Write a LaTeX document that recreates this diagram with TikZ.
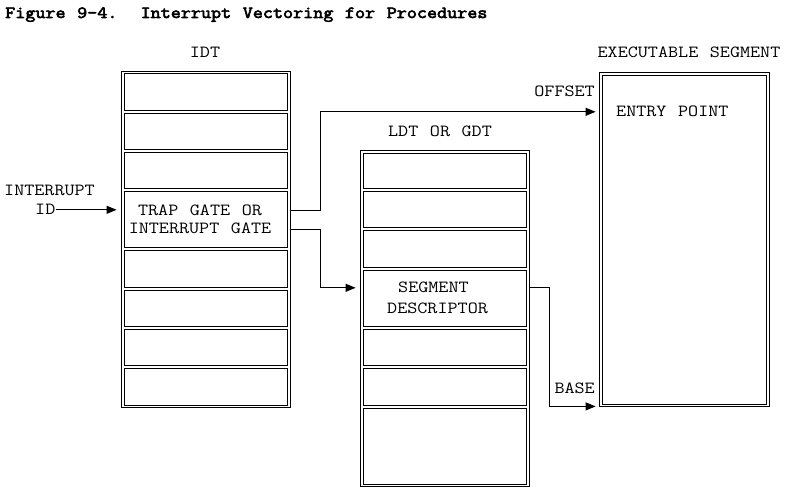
\documentclass[tikz,border=0pt]{standalone}
\usepackage{fontspec}
\setmainfont{Liberation Mono}
\newfontfamily\courfont[FakeStretch=1.15,WordSpace=1.15]{Latin Modern Mono}
\newfontfamily\courbold[FakeStretch=1.15,WordSpace=1.15,FakeBold=3.5]{Latin Modern Mono}
\usetikzlibrary{arrows.meta}

\begin{document}
\begin{tikzpicture}[x=1pt,y=-1pt,
    tbl/.style={draw,line width=0.8pt,inner sep=0pt},
    slot/.style={draw,line width=0.8pt,inner sep=0pt,minimum width=163pt},
    lbl/.style={inner sep=0pt,font=\courfont\fontsize{17}{20}\selectfont},
    link/.style={line width=0.8pt,-{Triangle[length=10pt,width=8pt]},shorten >=3pt}]
  \useasboundingbox (0,0) rectangle (789,502);

  \node[lbl,anchor=base west,font=\courbold\fontsize{17}{20}\selectfont] (title) at (5,18) {Figure 9-4.\ \ Interrupt Vectoring for Procedures};

  % IDT
  \node[lbl,anchor=base] (idt-title) at (205,58) {IDT};
  \node[tbl,minimum width=169pt,minimum height=336pt] (idt) at (205.5,239) {};
  \foreach \t/\b [count=\i] in {72/112,112/151,151/190,190/249,249/289,289/328,328/367,367/407}
    \node[slot,minimum height={(\b-\t-3)*1pt}] (idt-\i) at (205.5,{(\t+\b)/2}) {};
  \node[lbl,anchor=base] (trap) at (200,216) {TRAP GATE OR};
  \node[lbl,anchor=base] (intgate) at (200,234) {INTERRUPT GATE};

  \node[lbl,anchor=base west] (intr) at (4,196) {INTERRUPT};
  \node[lbl,anchor=base west] (id) at (35,215) {ID};

  % LDT or GDT
  \node[lbl,anchor=base] (ldt-title) at (440,137) {LDT OR GDT};
  \node[tbl,minimum width=169pt,minimum height=336pt] (ldt) at (444.5,318.5) {};
  \foreach \t/\b [count=\i] in {152/190,190/229,229/269,269/328,328/367,367/407,407/486}
    \node[slot,minimum height={(\b-\t-3)*1pt}] (ldt-\i) at (444.5,{(\t+\b)/2}) {};
  \node[lbl,anchor=base west] (seg1) at (398,293) {SEGMENT};
  \node[lbl,anchor=base west] (seg2) at (387,313) {DESCRIPTOR};

  % executable segment
  \node[lbl,anchor=base] (exec-title) at (689,58) {EXECUTABLE SEGMENT};
  \node[tbl,minimum width=170pt,minimum height=334pt] (exec) at (684,239) {};
  \node[tbl,minimum width=164pt,minimum height=329pt] (exec-in) at (684,239.5) {};
  \node[lbl,anchor=base west] (entry) at (616,117) {ENTRY POINT};

  \node[lbl,anchor=base east] (offset) at (595,97) {OFFSET};
  \node[lbl,anchor=base east] (base) at (595,393) {BASE};

  \draw[link,shorten >=4pt] (id.east) -- (id.east -| idt.west);
  \draw[link] ([yshift=9.5pt]idt-4.east -| idt.east) -- ++(30,0) |- (entry.west -| exec.west);
  \draw[link,shorten >=4pt] ([yshift=-9.5pt]idt-4.east -| idt.east) -- ++(30,0) |- (seg1.west -| ldt.west);
  \draw[link] (seg1.east -| ldt.east) -- ++(20,0) |- (exec.south west);
\end{tikzpicture}
\end{document}
